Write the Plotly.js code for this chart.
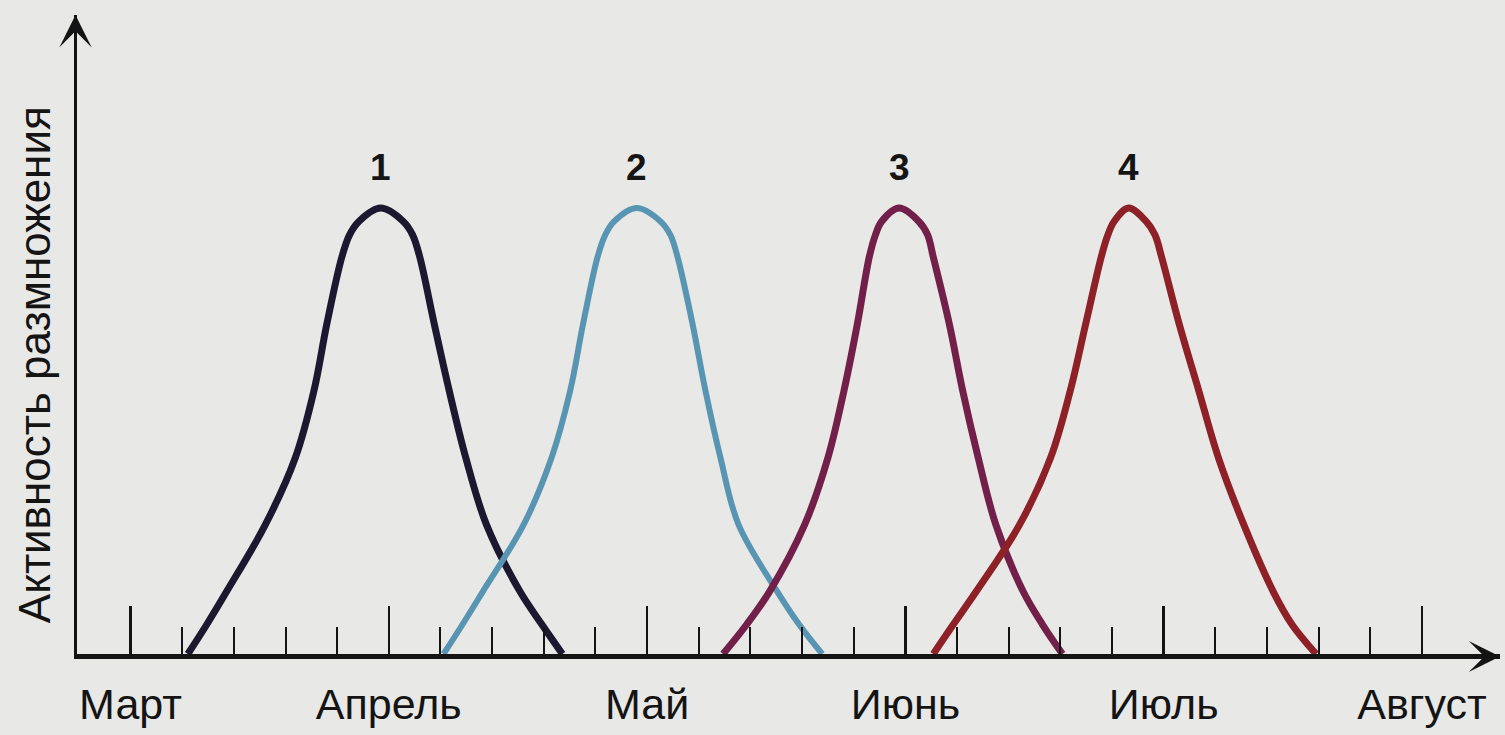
<!DOCTYPE html>
<html>
<head>
<meta charset="utf-8">
<script src="https://cdn.plot.ly/plotly-3.0.1.min.js"></script>
<style>
  html, body { margin: 0; padding: 0; background: #e8e8e6; }
  #chart { width: 1505px; height: 735px; }
</style>
</head>
<body>
<div id="chart"></div>
<script>
// x: time in week-ticks from the start of March (5 ticks per month)
// y: breeding activity, % of peak
const months = ["Март", "Апрель", "Май", "Июнь", "Июль", "Август"];
const monthTicks = [0, 5, 10, 15, 20, 25];
const weekTicks = [1, 2, 3, 4, 6, 7, 8, 9, 11, 12, 13, 14, 16, 17, 18, 19, 21, 22, 23, 24];

const seriesNames = ["1", "2", "3", "4"];

const s1x = [1.11, 1.47, 1.86, 2.61, 3.19, 3.55, 3.80, 4.09, 4.24, 4.42, 4.84, 5.28, 5.46, 5.60, 5.88, 6.17, 6.49, 6.89, 7.54, 7.97, 8.36];
const s1y = [0, 6.5, 14, 29, 44, 59, 74, 89, 94, 97, 100, 97, 94, 89, 74, 59, 44, 29, 14, 6.5, 0];

const s2x = [6.06, 6.42, 6.82, 7.61, 8.15, 8.51, 8.76, 9.04, 9.19, 9.36, 9.80, 10.26, 10.45, 10.59, 10.88, 11.13, 11.42, 11.77, 12.52, 12.95, 13.39];
const s2y = [0, 6.5, 14, 29, 44, 59, 74, 89, 94, 97, 100, 97, 94, 89, 74, 59, 44, 29, 14, 6.5, 0];

const s3x = [11.47, 11.92, 12.37, 13.05, 13.50, 13.81, 14.07, 14.30, 14.42, 14.54, 14.88, 15.26, 15.43, 15.54, 15.85, 16.11, 16.41, 16.75, 17.28, 17.66, 18.04];
const s3y = [0, 6.5, 14, 29, 44, 59, 74, 89, 94, 97, 100, 97, 94, 89, 74, 59, 44, 29, 14, 6.5, 0];

const s4x = [15.54, 15.92, 16.37, 17.21, 17.81, 18.19, 18.49, 18.79, 18.92, 19.04, 19.32, 19.66, 19.83, 19.96, 20.30, 20.68, 21.06, 21.55, 22.12, 22.49, 22.95];
const s4y = [0, 6.5, 14, 29, 44, 59, 74, 89, 94, 97, 100, 97, 94, 89, 74, 59, 44, 29, 14, 6.5, 0];

const colors = ["#1c1830", "#5895b2", "#722049", "#8e2028"];
const widths = [7, 6, 7, 7];

const FONT = "Liberation Sans, Arial, sans-serif";
const xs = [s1x, s2x, s3x, s4x];
const ys = [s1y, s2y, s3y, s4y];

const traces = xs.map((x, i) => ({
  type: "scatter",
  mode: "lines",
  x: x,
  y: ys[i],
  name: seriesNames[i],
  line: { color: colors[i], width: widths[i], shape: "spline", smoothing: 1 },
  hoverinfo: "skip"
}));

const peakLabels = xs.map((x, i) => {
  const y = ys[i];
  const k = y.indexOf(Math.max(...y));
  return {
    x: x[k], y: y[k], xref: "x", yref: "y",
    text: seriesNames[i], showarrow: false,
    yshift: 41, xanchor: "center", yanchor: "middle",
    font: { family: FONT, size: 37, color: "#151515", weight: 700 }
  };
});

const layout = {
  width: 1505,
  height: 735,
  margin: { l: 77, r: 5, t: 15, b: 81, pad: 0 },
  paper_bgcolor: "#e8e8e6",
  plot_bgcolor: "#e8e8e6",
  showlegend: false,
  xaxis: {
    range: [-1.036, 26.51],
    showline: true, linewidth: 5, linecolor: "#141414",
    zeroline: false, showgrid: false,
    tickmode: "array", tickvals: monthTicks, ticktext: months,
    ticks: "inside", ticklen: 48, tickwidth: 2.5, tickcolor: "#141414",
    ticklabelstandoff: 8,
    tickfont: { family: FONT, size: 43, color: "#141414" },
    minor: {
      tickmode: "array", tickvals: weekTicks,
      ticks: "inside", ticklen: 27, tickwidth: 2, tickcolor: "#141414",
      showgrid: false
    },
    fixedrange: true
  },
  yaxis: {
    range: [0, 143.3],
    showline: true, linewidth: 3, linecolor: "#141414",
    zeroline: false, showgrid: false,
    showticklabels: false, ticks: "",
    fixedrange: true
  },
  annotations: [
    {
      xref: "paper", yref: "paper", x: -0.0302, y: 0.452,
      text: "Активность размножения", textangle: -90, showarrow: false,
      xanchor: "center", yanchor: "middle",
      font: { family: FONT, size: 44, color: "#141414" }
    },
    {
      xref: "paper", yref: "paper", x: 0, y: 1, xshift: -1.5,
      text: "", showarrow: true, ax: 0, ay: 60,
      arrowhead: 3, arrowsize: 1.8, arrowwidth: 3, arrowcolor: "#141414"
    },
    {
      xref: "paper", yref: "paper", x: 1, y: 0, yshift: -2.5,
      text: "", showarrow: true, ax: -60, ay: 0,
      arrowhead: 3, arrowsize: 1.3, arrowwidth: 4, arrowcolor: "#141414"
    }
  ].concat(peakLabels)
};

Plotly.newPlot("chart", traces, layout, { displayModeBar: false, staticPlot: true });
</script>
</body>
</html>
